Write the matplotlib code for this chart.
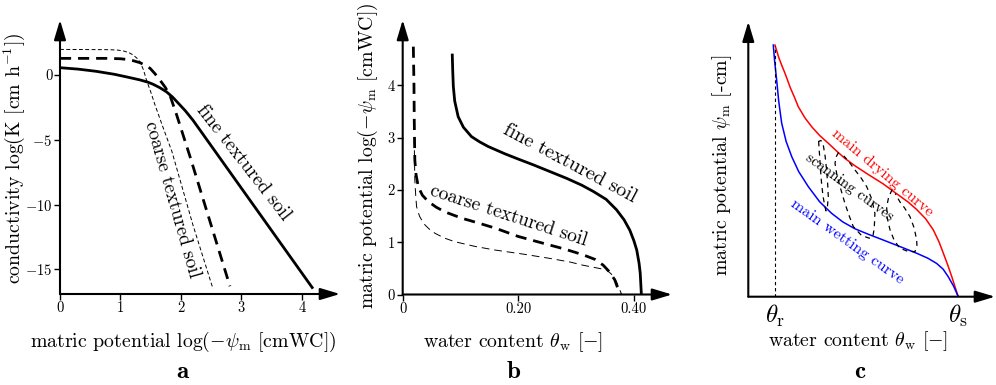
import matplotlib
matplotlib.use("Agg")
import matplotlib.pyplot as plt

plt.rcParams.update({
    "font.family": "serif",
    "font.serif": ["cmr10"],
    "mathtext.fontset": "cm",
    "axes.unicode_minus": False,
})

# (a) hydraulic conductivity vs. log suction
a_fine_x = [0, 0.3, 0.6, 0.9, 1.1, 1.32, 1.45, 1.54, 1.65, 1.76, 1.86, 1.95,
            2.07, 2.2, 4.17]
a_fine_y = [0.56, 0.45, 0.28, 0.05, -0.15, -0.38, -0.55, -0.72, -0.98, -1.3,
            -1.7, -2.15, -2.75, -3.5, -16.4]
a_coarse_x = [0, 0.77, 1.0, 1.1, 1.21, 1.32, 1.41, 1.49, 1.57, 1.65, 1.74,
              1.82, 1.93, 2.15, 2.48, 2.81]
a_coarse_y = [1.28, 1.28, 1.25, 1.2, 1.1, 0.95, 0.75, 0.51, 0.1, -0.38, -0.95,
              -1.6, -3.1, -6.3, -11.3, -16.3]
a_coarse2_x = [0, 0.8, 0.95, 1.05, 1.14, 1.21, 1.27, 1.32, 1.38, 1.43, 1.5,
               1.57, 1.7, 1.85, 2.2, 2.53]
a_coarse2_y = [1.97, 1.95, 1.92, 1.85, 1.72, 1.54, 1.3, 1.03, 0.4, -0.4, -1.3,
               -2.3, -4.0, -5.9, -11.6, -16.5]
a_xticks = [0, 1, 2, 3, 4]
a_yticks = [0, -5, -10, -15]

# (b) retention curves
b_fine_x = [0.0858, 0.0865, 0.0876, 0.090, 0.096, 0.105, 0.119, 0.133, 0.148,
            0.177, 0.200, 0.226, 0.255, 0.284, 0.310, 0.330, 0.352, 0.370,
            0.383, 0.393, 0.400, 0.405, 0.409, 0.411, 0.413]
b_fine_y = [4.58, 4.30, 3.98, 3.70, 3.40, 3.20, 3.02, 2.92, 2.83,
            2.69, 2.59, 2.48, 2.35, 2.22, 2.09, 1.97, 1.82, 1.62,
            1.43, 1.23, 1.03, 0.85, 0.60, 0.41, 0.0]
b_coarse_x = [0.0184, 0.0195, 0.020, 0.021, 0.023, 0.027, 0.034, 0.044, 0.058,
              0.073, 0.102, 0.130, 0.160, 0.200, 0.243, 0.280, 0.312, 0.333,
              0.347, 0.358, 0.367, 0.376]
b_coarse_y = [4.74, 4.00, 3.34, 2.57, 2.30, 2.06, 1.90, 1.78, 1.67,
              1.58, 1.46, 1.37, 1.27, 1.11, 0.98, 0.87, 0.76, 0.67,
              0.56, 0.43, 0.28, 0.0]
b_coarse2_x = [0.020, 0.0205, 0.021, 0.0225, 0.024, 0.029, 0.036, 0.045, 0.056,
               0.072, 0.090, 0.125, 0.160, 0.210, 0.255, 0.290, 0.312, 0.335,
               0.353, 0.363, 0.370, 0.379]
b_coarse2_y = [3.0, 2.5, 2.19, 1.90, 1.68, 1.50, 1.36, 1.26, 1.17,
               1.08, 1.01, 0.92, 0.85, 0.77, 0.69, 0.62, 0.56, 0.51,
               0.47, 0.37, 0.24, 0.0]
b_xticks = [0, 0.2, 0.4]
b_xlabels = ["0", "0.20", "0.40"]
b_yticks = [0, 1, 2, 3, 4]

# (c) hysteresis sketch, theta scaled so that theta_s = 1
theta_r = 0.127
theta_s = 1.0
dry_x = [0.127, 0.145, 0.160, 0.175, 0.200, 0.220, 0.238, 0.270, 0.302, 0.340,
         0.381, 0.420, 0.460, 0.508, 0.570, 0.643, 0.700, 0.760, 0.802, 0.845,
         0.881, 0.908, 0.929, 0.950, 0.969, 0.985, 1.0]
dry_y = [0.915, 0.870, 0.840, 0.812, 0.760, 0.725, 0.691, 0.650, 0.618, 0.586,
         0.558, 0.530, 0.503, 0.476, 0.445, 0.410, 0.378, 0.345, 0.317, 0.283,
         0.243, 0.200, 0.158, 0.115, 0.073, 0.035, 0.0]
wet_x = [0.119, 0.125, 0.135, 0.145, 0.159, 0.180, 0.207, 0.240, 0.286, 0.340,
         0.397, 0.450, 0.508, 0.575, 0.643, 0.720, 0.802, 0.855, 0.897, 0.928,
         0.952, 0.978, 1.0]
wet_y = [0.915, 0.860, 0.788, 0.710, 0.631, 0.565, 0.509, 0.455, 0.400, 0.345,
         0.303, 0.272, 0.247, 0.226, 0.206, 0.183, 0.158, 0.140, 0.121, 0.100,
         0.073, 0.038, 0.0]
scan1_x = [0.335, 0.337, 0.340, 0.344, 0.349, 0.356, 0.365, 0.370, 0.376, 0.381,
           0.378, 0.373, 0.366, 0.357, 0.346, 0.335]
scan1_y = [0.565, 0.540, 0.509, 0.460, 0.412, 0.365, 0.327, 0.312, 0.320, 0.364,
           0.410, 0.461, 0.510, 0.552, 0.568, 0.565]
scan2_x = [0.430, 0.418, 0.413, 0.422, 0.437, 0.460, 0.480, 0.500, 0.540, 0.580,
           0.594, 0.600, 0.603, 0.588, 0.564, 0.537, 0.508, 0.480, 0.455]
scan2_y = [0.525, 0.508, 0.485, 0.442, 0.400, 0.340, 0.295, 0.255, 0.222, 0.212,
           0.222, 0.250, 0.303, 0.355, 0.400, 0.432, 0.461, 0.490, 0.512]
scan3_x = [0.685, 0.668, 0.659, 0.662, 0.675, 0.695, 0.722, 0.760, 0.794, 0.803,
           0.802, 0.790, 0.770, 0.745, 0.722, 0.700]
scan3_y = [0.390, 0.360, 0.327, 0.285, 0.243, 0.205, 0.176, 0.165, 0.164, 0.185,
           0.206, 0.250, 0.291, 0.322, 0.345, 0.375]

fig = plt.figure(figsize=(9.96, 3.85), dpi=100)
W, H = 996, 385


def box(left, top, right, bottom):
    return [left / W, 1 - bottom / H, (right - left) / W, (bottom - top) / H]


def arrow_axes(ax):
    for s in ax.spines.values():
        s.set_visible(False)
    kw = dict(arrowstyle="-|>,head_length=0.6,head_width=0.18", lw=1.5,
              color="k", shrinkA=0, shrinkB=0, mutation_scale=20)
    ax.annotate("", xy=(1, 0), xytext=(0, 0), xycoords="axes fraction",
                arrowprops=kw, annotation_clip=False)
    ax.annotate("", xy=(0, 1), xytext=(0, 0), xycoords="axes fraction",
                arrowprops=kw, annotation_clip=False)


axa = fig.add_axes(box(60, 20, 340, 294))
axb = fig.add_axes(box(402.7, 20, 672, 294.5))
axc = fig.add_axes(box(748.3, 21.7, 995, 296.7))
for ax in (axa, axb, axc):
    arrow_axes(ax)
    ax.patch.set_visible(False)

# --- a ---
axa.plot(a_fine_x, a_fine_y, "k-", lw=2.0)
axa.plot(a_coarse_x, a_coarse_y, "k", lw=2.0, dashes=(4, 2.5))
axa.plot(a_coarse2_x, a_coarse2_y, "k", lw=0.7, dashes=(4, 2.5))
axa.set_xlim(0, 4.63)
axa.set_ylim(-16.9, 4.24)
axa.set_xticks(a_xticks)
axa.set_xticklabels([str(v) for v in a_xticks])
axa.set_yticks(a_yticks)
axa.set_yticklabels(["$%d$" % v if v else "0" for v in a_yticks])
axa.tick_params(direction="out", length=4, width=1, labelsize=10.5, pad=1.5)
axa.text(3.04, -6.8, "fine textured soil", rotation=-52, ha="center",
         va="center", fontsize=13.8, rotation_mode="anchor")
axa.text(1.85, -9.6, "coarse textured soil", rotation=-74, ha="center",
         va="center", fontsize=13.8, rotation_mode="anchor")

# --- b ---
axb.plot(b_fine_x, b_fine_y, "k-", lw=2.0)
axb.plot(b_coarse_x, b_coarse_y, "k", lw=2.0, dashes=(4, 2.5))
axb.plot(b_coarse2_x, b_coarse2_y, "k", lw=0.7, dashes=(8, 5))
axb.set_xlim(0, 0.466)
axb.set_ylim(0, 5.25)
axb.set_xticks(b_xticks)
axb.set_xticklabels(b_xlabels)
axb.set_yticks(b_yticks)
axb.tick_params(direction="out", length=4, width=1, labelsize=10.5, pad=1.5)
axb.text(0.289, 2.5, "fine textured soil", rotation=-28, ha="center",
         va="center", fontsize=14.5, rotation_mode="anchor")
axb.text(0.184, 1.5, "coarse textured soil", rotation=-18, ha="center",
         va="center", fontsize=14, rotation_mode="anchor")

# --- c ---
axc.plot(dry_x, dry_y, color="red", lw=1.1)
axc.plot(wet_x, wet_y, color="blue", lw=1.1)
axc.plot([theta_r, theta_r], [0, 0.91], "k", lw=0.8, dashes=(3, 2.5))
for sx, sy in ((scan1_x, scan1_y), (scan2_x, scan2_y), (scan3_x, scan3_y)):
    axc.plot(sx, sy, "k", lw=0.9, dashes=(4, 3.5))
axc.set_xlim(0, 1.175)
axc.set_ylim(0, 1)
axc.set_xticks([theta_r, theta_s])
axc.set_xticklabels([r"$\theta_{\rm r}$", r"$\theta_{\rm s}$"])
axc.set_yticks([])
axc.tick_params(length=0, labelsize=18, pad=4)
axc.text(0.64, 0.45, "main drying curve", color="red", rotation=-40,
         ha="center", va="center", fontsize=11.5, rotation_mode="anchor")
axc.text(0.484, 0.40, "scanning curves", color="black", rotation=-36,
         ha="center", va="center", fontsize=11, rotation_mode="anchor")
axc.text(0.472, 0.20, "main wetting curve", color="blue", rotation=-35.5,
         ha="center", va="center", fontsize=11.5, rotation_mode="anchor")

# axis labels and panel letters
label_size = 14.3
fig.text(183 / W, 1 - 341.7 / H, r"matric potential log$(-\psi_{\rm m}$ [cmWC])",
         ha="center", va="center", fontsize=label_size)
fig.text(14 / W, 1 - 158 / H, r"conductivity log(K [cm h$^{-1}$])",
         ha="center", va="center", rotation=90, fontsize=label_size)
fig.text(368 / W, 1 - 156 / H, r"matric potential log$(-\psi_{\rm m}$ [cmWC])",
         ha="center", va="center", rotation=90, fontsize=label_size)
fig.text(513 / W, 1 - 341.7 / H, r"water content $\theta_{\rm w}$ $[-]$",
         ha="center", va="center", fontsize=label_size)
fig.text(722 / W, 1 - 165 / H, r"matric potential $\psi_{\rm m}$ [-cm]",
         ha="center", va="center", rotation=90, fontsize=label_size)
fig.text(858 / W, 1 - 341 / H, r"water content $\theta_{\rm w}$ $[-]$",
         ha="center", va="center", fontsize=label_size)
for lx, letter in ((183, "a"), (514, "b"), (860, "c")):
    fig.text(lx / W, 1 - 372 / H, r"$\mathbf{%s}$" % letter,
             ha="center", va="center", fontsize=18)

fig.savefig("out.png", dpi=100)
